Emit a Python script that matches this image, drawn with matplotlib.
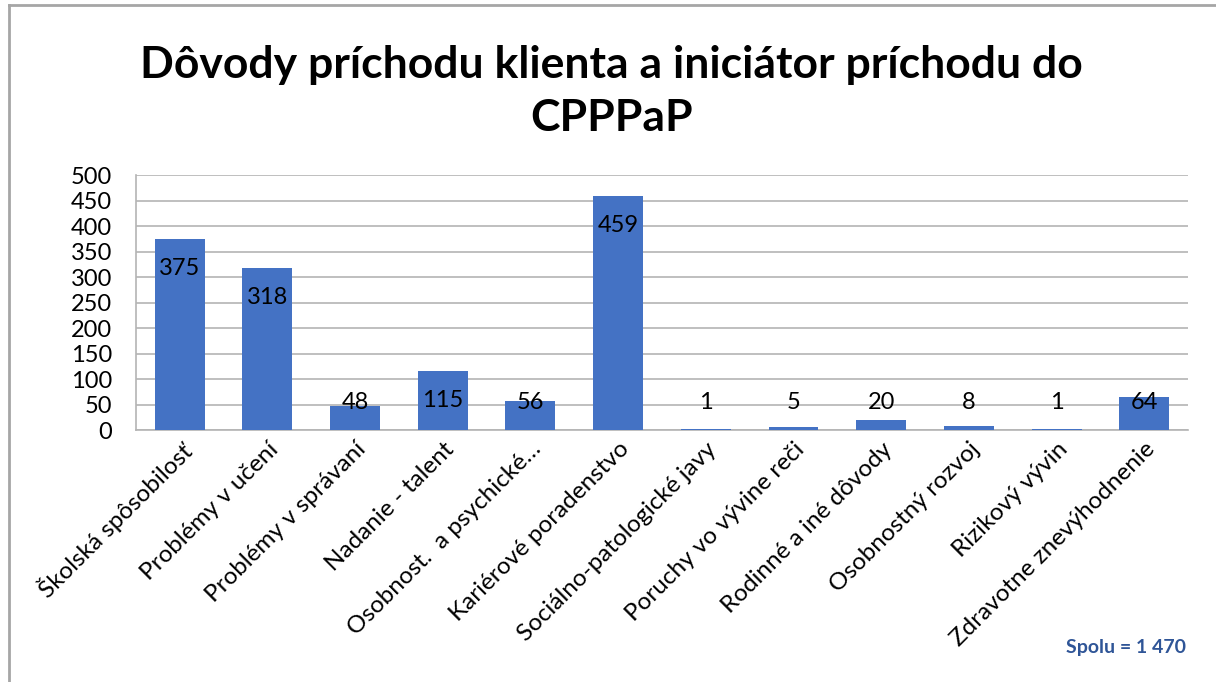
import matplotlib.pyplot as plt
from matplotlib.lines import Line2D

# data
categories = [
    "Školská spôsobilosť",
    "Problémy v učení",
    "Problémy v správaní",
    "Nadanie - talent",
    "Osobnost.  a psychické…",
    "Kariérové poradenstvo",
    "Sociálno-patologické javy",
    "Poruchy vo vývine reči",
    "Rodinné a iné dôvody",
    "Osobnostný rozvoj",
    "Rizikový vývin",
    "Zdravotne znevýhodnenie",
]
counts = [375, 318, 48, 115, 56, 459, 1, 5, 20, 8, 1, 64]
y_ticks = [0, 50, 100, 150, 200, 250, 300, 350, 400, 450, 500]

plt.rcParams['font.family'] = ['Lato', 'DejaVu Sans']

fig = plt.figure(figsize=(12.16, 6.82), dpi=100)
ax = fig.add_axes([0.1118, 0.3695, 0.8652, 0.3739])

x = list(range(len(categories)))
ax.bar(x, counts, width=0.57, color="#4472C4", zorder=3)

# value labels: inside the top of the bar, never lower than a floor
for xi, v in zip(x, counts):
    ax.text(xi, max(v - 58, 53), str(v), ha="center", va="center",
            fontsize=17, color="black", zorder=4)

ax.set_xlim(-0.5, len(categories) - 0.5)
ax.set_ylim(0, 500)
ax.set_yticks(y_ticks)
ax.tick_params(axis="y", length=0, labelsize=17, pad=17)
ax.tick_params(axis="x", length=0, pad=6)
ax.set_xticks(x)
ax.set_xticklabels(categories, rotation=45, ha="right", va="top",
                   rotation_mode="anchor", fontsize=17.5)
ax.grid(axis="y", color="#B4B4B4", linewidth=1.2, zorder=0)

for side in ["top", "right"]:
    ax.spines[side].set_visible(False)
ax.spines["left"].set_color("#B4B4B4")
ax.spines["bottom"].set_color("#B4B4B4")
ax.spines["left"].set_linewidth(1.2)
ax.spines["bottom"].set_linewidth(1.2)

fig.text(0.503, 0.866, "Dôvody príchodu klienta a iniciátor príchodu do\nCPPPaP",
         ha="center", va="center", fontsize=32, fontweight="bold",
         linespacing=1.4)

fig.text(0.926, 0.05, "Spolu = 1 470", ha="center", va="center",
         fontsize=14, fontweight="bold", color="#2F5597")

# outer frame (top and left edges visible in the reference)
fig.add_artist(Line2D([0.007, 1.0], [0.992, 0.992], color="#A6A6A6",
                      linewidth=2, transform=fig.transFigure))
fig.add_artist(Line2D([0.007, 0.007], [0.0, 0.992], color="#A6A6A6",
                      linewidth=2, transform=fig.transFigure))

plt.savefig("out.png", dpi=100)
